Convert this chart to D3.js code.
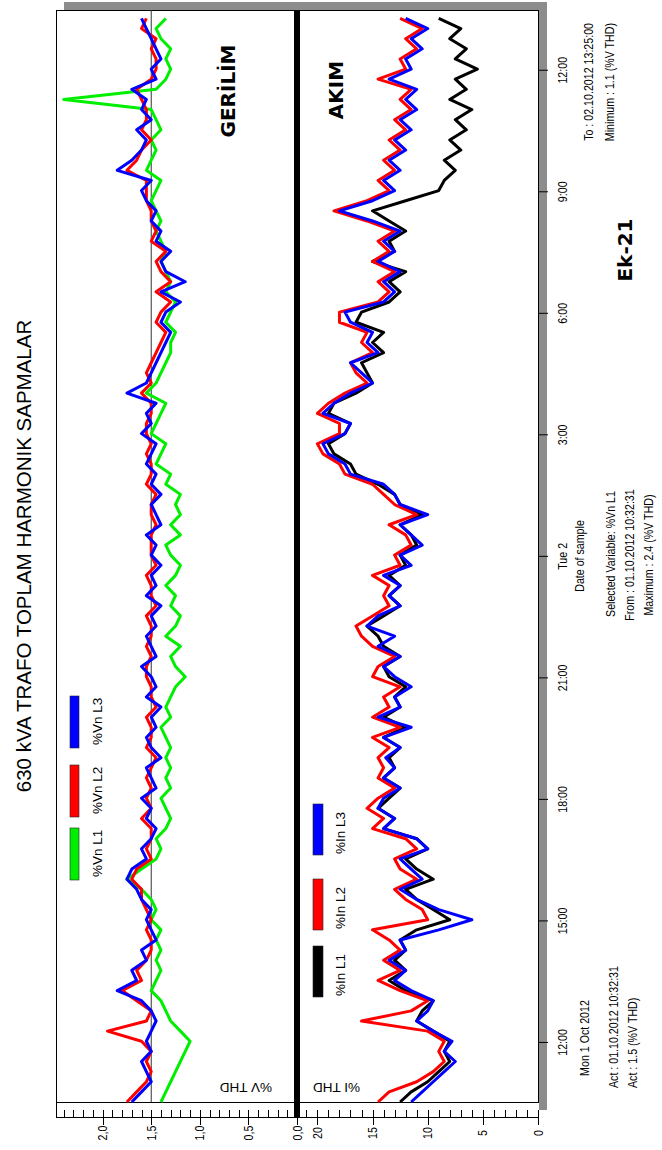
<!DOCTYPE html>
<html><head><meta charset="utf-8">
<script src="https://cdn.jsdelivr.net/npm/d3@7"></script>
<style>body{margin:0;background:#fff} svg{display:block}</style>
</head><body>
<svg id="c" width="662" height="1150"></svg>
<script>
// ---------- DATA ----------
const startTime = new Date(2012, 9, 1, 10, 32, 31);
const endTime   = new Date(2012, 9, 2, 13, 30, 0);
const stepMinutes = 15;
const voltTicks = [0, 0.5, 1, 1.5, 2];
const voltTickLabels = ["0,0", "0,5", "1,0", "1,5", "2,0"];
const currTicks = [0, 5, 10, 15, 20];
const currTickLabels = ["0", "5", "10", "15", "20"];
const timeTickLabels = ["12:00", "15:00", "18:00", "21:00", "Tue 2", "3:00", "6:00", "9:00", "12:00"];
const voltNames = ["%Vn L1", "%Vn L2", "%Vn L3"];
const currNames = ["%In L1", "%In L2", "%In L3"];

const vL1 = [1.4,1.35,1.3,1.25,1.2,1.15,1.1,1.2,1.3,1.35,
 1.4,1.5,1.45,1.4,1.45,1.4,1.45,1.4,1.5,1.45,
 1.5,1.6,1.75,1.6,1.45,1.4,1.45,1.35,1.3,1.35,
 1.4,1.3,1.35,1.3,1.35,1.3,1.35,1.4,1.3,1.35,
 1.3,1.25,1.15,1.25,1.3,1.2,1.35,1.25,1.2,1.3,
 1.25,1.35,1.25,1.2,1.3,1.35,1.2,1.3,1.2,1.25,
 1.2,1.35,1.3,1.45,1.4,1.35,1.5,1.45,1.4,1.35,
 1.55,1.45,1.4,1.35,1.3,1.3,1.25,1.35,1.3,1.25,
 1.35,1.3,1.35,1.4,1.35,1.4,1.45,1.4,1.45,1.5,
 1.45,1.4,1.55,1.5,1.45,1.5,1.4,1.45,1.5,2.4,
 1.45,1.35,1.3,1.35,1.3,1.4,1.45,1.35];
const vL2 = [1.75,1.65,1.55,1.5,1.55,1.5,1.6,1.95,1.55,1.5,
 1.65,1.8,1.6,1.65,1.55,1.5,1.5,1.55,1.5,1.55,
 1.6,1.6,1.7,1.65,1.5,1.55,1.5,1.5,1.6,1.5,
 1.55,1.5,1.55,1.5,1.45,1.55,1.5,1.5,1.55,1.45,
 1.5,1.5,1.55,1.55,1.5,1.55,1.5,1.5,1.55,1.45,
 1.5,1.5,1.55,1.45,1.5,1.5,1.5,1.45,1.5,1.5,
 1.45,1.55,1.5,1.5,1.55,1.5,1.55,1.55,1.5,1.5,
 1.6,1.5,1.55,1.5,1.45,1.4,1.35,1.45,1.4,1.3,
 1.45,1.3,1.4,1.45,1.35,1.5,1.45,1.5,1.5,1.55,
 1.55,1.55,1.75,1.65,1.6,1.5,1.6,1.55,1.55,1.6,
 1.65,1.5,1.45,1.45,1.5,1.45,1.6,1.55];
const vL3 = [1.7,1.6,1.5,1.55,1.6,1.5,1.55,1.5,1.45,1.5,
 1.6,1.85,1.65,1.7,1.55,1.6,1.45,1.5,1.55,1.5,
 1.6,1.65,1.75,1.7,1.55,1.6,1.5,1.45,1.55,1.5,
 1.6,1.45,1.5,1.55,1.4,1.5,1.55,1.45,1.5,1.4,
 1.55,1.45,1.5,1.6,1.45,1.5,1.55,1.45,1.5,1.4,
 1.55,1.45,1.5,1.4,1.5,1.45,1.55,1.4,1.45,1.5,
 1.4,1.5,1.45,1.55,1.5,1.45,1.6,1.5,1.55,1.45,
 1.75,1.55,1.5,1.45,1.4,1.35,1.3,1.4,1.35,1.2,
 1.4,1.15,1.35,1.4,1.3,1.45,1.4,1.5,1.45,1.55,
 1.6,1.5,1.85,1.7,1.6,1.55,1.65,1.5,1.6,1.55,
 1.7,1.45,1.5,1.4,1.45,1.5,1.55,1.6];

const iL1 = [12.5,11.5,10,9,8,8.5,8,9.5,11,10.5,
 9.5,12,13.5,12,13,12,12.5,11,8,9.5,
 11,12,9.5,11,12,10,11,14,13,14.5,
 13.5,12.5,14,13,13.5,12.5,14,12,14,12.5,
 13,12,13.5,14,12.5,14,14.5,15.5,14,12.5,
 13.5,12.5,13.5,12,12.5,11,11.5,12.5,10.5,12.5,
 13,14.5,16.5,17,18.5,19,17.5,17,19,18.5,
 16.5,15,15.5,16,14,15,14,16.5,16,13.5,
 12.5,13.5,12,15,13,13.5,12,13.5,15,12,
 9,8.5,7.5,8.5,7,8,6.5,7.5,6,8,
 6.5,7.5,5.5,7.5,6.5,8,7,9];
const iL2 = [14.5,13.5,11,9.5,8.5,9,8.5,10,16,11.5,
 10,12.5,14.5,12.5,14,12.5,13.5,15,10,10.5,
 12,13,11,12.5,13,11,12,15,14,15.5,
 14.5,13,14.5,14,14.5,13.5,15,12.5,15,13.5,
 14,12.5,15,14.5,13,15,16,16.5,15,13.5,
 14,13.5,15,12.5,13,11.5,12,13.5,11,13,
 14,15,17.5,18,19.5,20,18,18,20,19,
 17.5,15.5,16.5,17,15,16,15.5,18,18,14.5,
 13.5,14.5,13,15,13.5,14.5,13,15.5,18.5,15.5,
 13.5,14.5,13,14,12.5,13.5,12,13,11.5,12.5,
 11.5,14.5,12,12.5,11,12,10.5,12.5];
const iL3 = [11.5,10.5,9.5,8.5,7.5,8.5,7.8,9.5,11,10,
 9.5,11.5,13,12,13.5,12,12.5,9,6,9,
 11,12.5,10.5,11.5,12.5,10,11,14,13,14.5,
 14,12.5,14,13,13.8,12.5,14,11.5,14.5,12.5,
 13,11.5,13,14,12.5,14.5,13,15.5,14.5,12.5,
 13.5,12.5,14,11.5,12.5,10.5,11.5,12.5,10,12.5,
 13,14,17,17.5,19,19.5,17.5,17,19.5,18.5,
 17,15,16,17,14.5,15.5,15,17,17.5,14,
 13,14,12.5,14.5,13,14,12.5,15,18,15,
 13,14,12.5,13.5,12,13,11.5,12.5,11,12,
 11,13.5,11.5,12,10.5,11.5,10,12];

// ---------- SETUP (original landscape coordinates, rotated onto the page) ----------
const svg = d3.select("#c");
svg.append("rect").attr("width", 662).attr("height", 1150).attr("fill", "#fff");
const g = svg.append("g").attr("transform", "translate(0,1150) rotate(-90)");

function hasFont(f) {
  const a = g.append("text").attr("font-family", f + ",monospace").attr("font-size", 20).text("Selected Variable mmm iii");
  const b = g.append("text").attr("font-family", "monospace").attr("font-size", 20).text("Selected Variable mmm iii");
  const r = Math.abs(a.node().getComputedTextLength() - b.node().getComputedTextLength()) > 0.5;
  a.remove(); b.remove(); return r;
}
const narrowOK = hasFont("'Liberation Sans Narrow'");
const smallFont = "'Liberation Sans Narrow','Arial Narrow','Liberation Sans',Arial,sans-serif";
const sx = narrowOK ? 1 : 0.82;   // horizontal condensing when no narrow face is installed
function smallText(parent, str, px, py, anchor) {
  return parent.append("text").attr("transform", `translate(${px},${py}) scale(${sx},1)`)
    .attr("text-anchor", anchor).attr("font-family", smallFont).attr("font-size", 13)
    .attr("fill", "#000").text(str);
}

const x = d3.scaleTime().domain([startTime, endTime]).range([48, 1140]);
const yV = d3.scaleLinear().domain([0, 2.48]).range([297, 56]);
const yI = d3.scaleLinear().domain([0, 21.85]).range([538, 297]);
const timeOf = i => new Date(startTime.getTime() + i * stepMinutes * 60000);

// shadow
g.append("rect").attr("x", 1140).attr("y", 64).attr("width", 8).attr("height", 476).attr("fill", "#8c8c8c");
g.append("rect").attr("x", 40).attr("y", 539).attr("width", 1108).attr("height", 8).attr("fill", "#8c8c8c");
// frame
g.append("rect").attr("x", 48).attr("y", 56).attr("width", 1092).attr("height", 482)
  .attr("fill", "#fff").attr("stroke", "#000").attr("stroke-width", 1).attr("shape-rendering", "crispEdges");

// reference line 1.5 %
g.append("line").attr("x1", 48).attr("x2", 1140).attr("y1", yV(1.5)).attr("y2", yV(1.5))
  .attr("stroke", "#333").attr("stroke-width", 1);

// series
const line = (ys) => d3.line().x((d, i) => x(timeOf(i))).y(d => ys(d));
const voltSeries = [{v: vL1, c: "#00ee00"}, {v: vL2, c: "#ff0000"}, {v: vL3, c: "#0000ff"}];
const currSeries = [{v: iL1, c: "#000000"}, {v: iL2, c: "#ff0000"}, {v: iL3, c: "#0000ff"}];
voltSeries.forEach(s => g.append("path").attr("d", line(yV)(s.v)).attr("fill", "none")
  .attr("stroke", s.c).attr("stroke-width", 3).attr("stroke-linejoin", "round"));
currSeries.forEach(s => g.append("path").attr("d", line(yI)(s.v)).attr("fill", "none")
  .attr("stroke", s.c).attr("stroke-width", 3).attr("stroke-linejoin", "round"));

// separator
g.append("rect").attr("x", 33).attr("y", 294).attr("width", 1107).attr("height", 6).attr("fill", "#000");

// value axes
g.append("line").attr("x1", 33).attr("x2", 33).attr("y1", 56).attr("y2", 538).attr("stroke", "#000").attr("shape-rendering", "crispEdges");
g.append("line").attr("x1", 33).attr("x2", 48).attr("y1", 56).attr("y2", 56).attr("stroke", "#000").attr("shape-rendering", "crispEdges");
function axisSet(scale, minor, major, labels) {
  const a1 = g.append("g").attr("transform", "translate(33,0)")
    .call(d3.axisRight(scale).tickValues(minor).tickSize(7).tickFormat(""));
  const a2 = g.append("g").attr("transform", "translate(25,0)")
    .call(d3.axisRight(scale).tickValues(major).tickSize(15).tickFormat(""));
  [a1, a2].forEach(a => { a.select(".domain").remove(); a.selectAll("line").attr("stroke", "#000").attr("shape-rendering", "crispEdges"); });
  major.forEach((d, i) => smallText(g, labels[i], 17, scale(d) + 4.5, "middle"));
}
axisSet(yV, d3.range(0, 2.41, 0.1).map(d => +d.toFixed(1)), voltTicks, voltTickLabels);
axisSet(yI, d3.range(0, 22, 1), currTicks, currTickLabels);

// time axis
const tticks = x.ticks(d3.timeHour.every(3));
const ta = g.append("g").attr("transform", "translate(0,539)")
  .call(d3.axisBottom(x).tickValues(tticks).tickSize(9).tickFormat((d, i) => timeTickLabels[i]));
ta.select(".domain").remove();
ta.selectAll("line").attr("stroke", "#000");
ta.selectAll("text").attr("font-family", smallFont).attr("font-size", 13).attr("fill", "#000")
  .attr("dy", 0).attr("y", null).attr("transform", `translate(0,28) scale(${sx},1)`);

// axis titles (rotated)
[["%V THD", 272], ["%I THD", 360]].forEach(([t, p]) => {
  g.append("text").attr("transform", `translate(67,${p}) rotate(-90)`)
    .attr("font-family", "'Liberation Sans',Arial,sans-serif").attr("font-size", 13.5).attr("fill", "#000").text(t);
});

// legends
const vLeg = [270, 333, 402], iLeg = [153, 220, 295];
voltSeries.forEach((s, k) => {
  g.append("rect").attr("x", vLeg[k]).attr("y", 70).attr("width", 52).attr("height", 9)
    .attr("fill", s.c).attr("stroke", "#222").attr("stroke-width", 0.6);
  g.append("text").attr("x", vLeg[k] + 3).attr("y", 102).attr("font-family", "'Liberation Sans',Arial,sans-serif")
    .attr("font-size", 13.5).attr("fill", "#000").text(voltNames[k]);
});
currSeries.forEach((s, k) => {
  g.append("rect").attr("x", iLeg[k]).attr("y", 313).attr("width", 51).attr("height", 10)
    .attr("fill", s.c).attr("stroke", "#222").attr("stroke-width", 0.6);
  g.append("text").attr("x", iLeg[k] + 1).attr("y", 345).attr("font-family", "'Liberation Sans',Arial,sans-serif")
    .attr("font-size", 13.5).attr("fill", "#000").text(currNames[k]);
});

// title
g.append("text").attr("x", 594).attr("y", 31).attr("text-anchor", "middle")
  .attr("font-family", "'Liberation Sans',Arial,sans-serif").attr("font-size", 20.5).attr("fill", "#000")
  .text("630 kVA TRAFO TOPLAM HARMONIK SAPMALAR");

// bold labels
const bold = (t, xx, yy) => g.append("text").attr("x", xx).attr("y", yy).attr("text-anchor", "middle")
  .attr("font-family", "'DejaVu Sans',Verdana,sans-serif").attr("font-weight", "bold").attr("font-size", 20).attr("fill", "#000").text(t);
bold("GERİLİM", 1059, 235);
bold("AKIM", 1060, 343);
bold("Ek-21", 900, 632);

// info texts
const info = [
  ["Mon 1 Oct 2012", 112, 589, "middle"],
  ["Act : 01.10.2012 10:32:31", 62, 618, "start"],
  ["Act : 1.5 (%V THD)", 62, 637, "start"],
  ["Date of sample", 594, 584, "middle"],
  ["Selected Variable: %Vn L1", 596, 615, "middle"],
  ["From : 01.10.2012 10:32:31", 595, 634, "middle"],
  ["Maximum : 2.4 (%V THD)", 595, 653, "middle"],
  ["To : 02.10.2012 13:25:00", 1127, 593, "end"],
  ["Minimum : 1.1 (%V THD)", 1127, 614, "end"]
];
info.forEach(d => smallText(g, d[0], d[1], d[2], d[3]));
</script>
</body></html>
